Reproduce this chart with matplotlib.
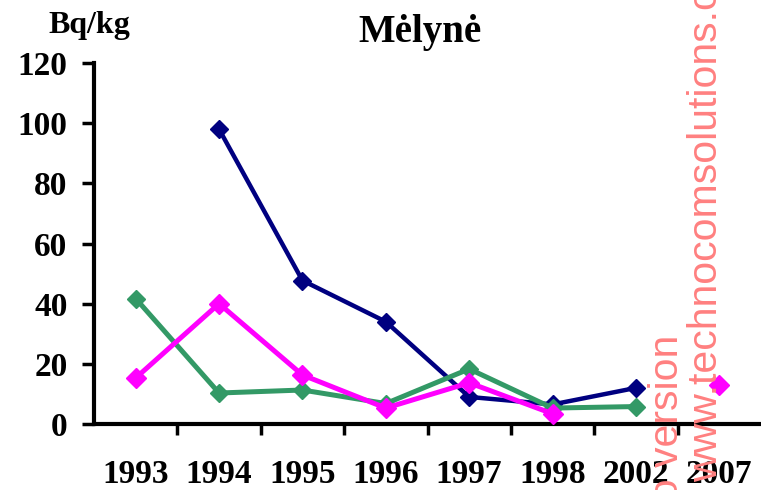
import numpy as np
import matplotlib
matplotlib.use('Agg')
import matplotlib.pyplot as plt
from matplotlib.ticker import FixedLocator

plt.rcParams['font.family'] = ['Liberation Serif', 'DejaVu Serif']

# categories and series (Bq/kg), NaN = no measurement
years = ['1993', '1994', '1995', '1996', '1997', '1998', '2002', '2007']
navy_vals = [np.nan, 98, 47.7, 34, 9, 6.5, 12, np.nan]
green_vals = [41.7, 10.3, 11.3, 6.8, 18.3, 5.3, 5.8, np.nan]
pink_vals = [15.3, 40, 16.3, 5.3, 13.7, 3.4, np.nan, 13]

fig = plt.figure(figsize=(7.61, 4.90), dpi=100)
ax = fig.add_axes([94 / 761, 1 - 424 / 490, 1 - 94 / 761, 361 / 490])

x = np.arange(len(years))
ax.plot(x, navy_vals, color='#000080', lw=3.2, marker='D', ms=9, zorder=3)
ax.plot(x, green_vals, color='#339966', lw=3.6, marker='D', ms=9, zorder=4)
ax.plot(x, pink_vals, color='#FF00FF', lw=3.6, marker='D', ms=10, zorder=5)

ax.set_xlim(-0.5, len(years) - 0.5)
ax.set_ylim(0, 120)

# spines
for s in ['top', 'right']:
    ax.spines[s].set_visible(False)
for s in ['left', 'bottom']:
    ax.spines[s].set_linewidth(3)
ax.spines['bottom'].set_capstyle('butt')

# y ticks
ax.set_yticks(np.arange(0, 121, 20))
ax.tick_params(axis='y', direction='out', length=9, width=2.5, pad=10,
               labelsize=24)

# x: labels at centres, tick marks at category boundaries
ax.set_xticks(x)
ax.set_xticklabels(years)
ax.xaxis.set_minor_locator(FixedLocator(np.arange(0.5, len(years) - 1, 1)))
ax.tick_params(axis='x', which='major', length=0, pad=25, labelsize=24)
ax.tick_params(axis='x', which='minor', direction='out', length=8, width=2.5)

for lab in ax.get_xticklabels() + ax.get_yticklabels():
    lab.set_fontweight('bold')

# titles
fig.text(420 / 761, 1 - 42 / 490, 'Mėlynė', ha='center', va='baseline',
         fontsize=28, fontweight='bold')
fig.text(48 / 761, 1 - 33 / 490, 'Bq/kg', ha='left', va='baseline',
         fontsize=23, fontweight='bold')

# watermark from the source image
fig.text(678 / 761, 1 - 335 / 490, 'Demo version', rotation=90,
         rotation_mode='anchor', ha='right', va='baseline', fontsize=29.5,
         color='#FF8080', family='Liberation Sans', zorder=10)
fig.text(717 / 761, 1 - 482 / 490, 'www.technocomsolutions.com', rotation=90,
         rotation_mode='anchor', ha='left', va='baseline', fontsize=29.5,
         color='#FF8080', family='Liberation Sans', zorder=10)

fig.savefig('out.png', dpi=100)
